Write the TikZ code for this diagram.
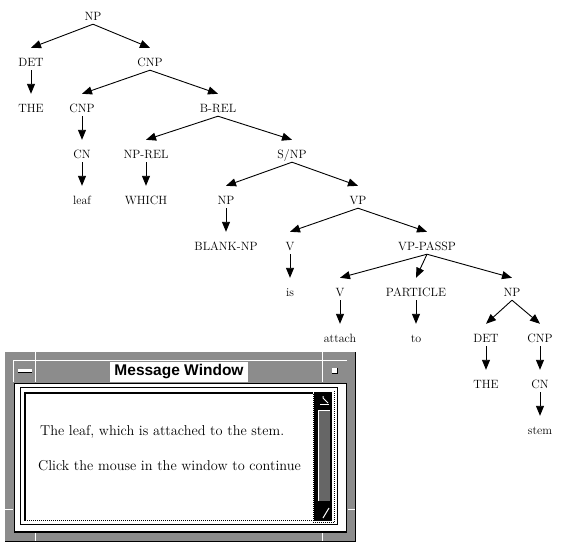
\documentclass[tikz,border=0pt]{standalone}
\usepackage{fontspec}
\newfontfamily\winfont{Liberation Sans}
\usetikzlibrary{arrows.meta}
\tikzset{
  lbl/.style={font=\fontsize{12}{14}\selectfont, inner sep=0pt, text height=18pt, text depth=4pt, anchor=base},
  edge/.style={draw, line width=0.9pt, -{Triangle[length=10pt,width=8pt]}},
  dith/.style={fill=black!45},
  wline/.style={draw=white, line width=1pt},
  bline/.style={draw=black, line width=1pt},
  dotline/.style={draw=black, line width=1pt, dash pattern=on 1pt off 1pt},
  msg/.style={font=\fontsize{14.3}{16}\selectfont, inner sep=0pt, anchor=base west},
  wtitle/.style={font=\winfont\bfseries\fontsize{15.5}{16}\selectfont, fill=white, inner sep=0pt, minimum width=138pt, minimum height=20pt}
}
\begin{document}
\begin{tikzpicture}[x=1pt,y=-1pt]
\useasboundingbox (0,0) rectangle (563,550);
% ---------- tree ----------
\node[lbl] (np0)    at (93,20)  {NP};
\node[lbl] (det1)   at (31,66)  {DET};
\node[lbl] (cnp1)   at (150,66) {CNP};
\node[lbl] (the2)   at (31,112) {THE};
\node[lbl] (cnp2)   at (82,112) {CNP};
\node[lbl] (brel2)  at (218,112) {B-REL};
\node[lbl] (cn3)    at (82,158) {CN};
\node[lbl] (nprel3) at (146,158) {NP-REL};
\node[lbl] (snp3)   at (292,158) {S/NP};
\node[lbl] (leaf4)  at (82,204) {leaf};
\node[lbl] (which4) at (146,204) {WHICH};
\node[lbl] (np4)    at (226,204) {NP};
\node[lbl] (vp4)    at (358,204) {VP};
\node[lbl] (blank5) at (226,250) {BLANK-NP};
\node[lbl] (v5)     at (290,250) {V};
\node[lbl] (vpp5)   at (427,250) {VP-PASSP};
\node[lbl] (is6)    at (290,296) {is};
\node[lbl] (v6)     at (340,296) {V};
\node[lbl] (part6)  at (416,296) {PARTICLE};
\node[lbl] (np6)    at (512,296) {NP};
\node[lbl] (attach7) at (340,342) {attach};
\node[lbl] (to7)    at (416,342) {to};
\node[lbl] (det7)   at (486,342) {DET};
\node[lbl] (cnp7)   at (540,342) {CNP};
\node[lbl] (the8)   at (486,388) {THE};
\node[lbl] (cn8)    at (540,388) {CN};
\node[lbl] (stem9)  at (540,434) {stem};
\foreach \p/\c in {np0/det1, np0/cnp1, det1/the2, cnp1/cnp2, cnp1/brel2, cnp2/cn3, cn3/leaf4,
  brel2/nprel3, brel2/snp3, nprel3/which4, snp3/np4, snp3/vp4, np4/blank5, vp4/v5, vp4/vpp5,
  v5/is6, vpp5/v6, vpp5/part6, vpp5/np6, v6/attach7, part6/to7, np6/det7, np6/cnp7,
  det7/the8, cnp7/cn8, cn8/stem9}
  \draw[edge] (\p.south) -- (\c.north);
% ---------- message window ----------
\fill[dith] (5,352) rectangle (356,542);
\draw[bline] (355.5,352) -- (355.5,541.5) -- (5,541.5);
% title bar highlights
\draw[wline] (13.5,382) -- (13.5,360.5) -- (347,360.5);
% corner separators
\draw[wline] (35.5,352) -- (35.5,382);
\draw[wline] (322.5,352) -- (322.5,382);
\draw[wline] (35.5,533) -- (35.5,541);
\draw[wline] (322.5,533) -- (322.5,541);
\draw[wline] (5,509.5) -- (13,509.5);
\draw[wline] (348,509.5) -- (355,509.5);
% window buttons
\fill[white] (18,369) rectangle (32,372);
\draw[bline] (18,372.5) -- (32,372.5);
\fill[white] (332,368) rectangle (337,373);
\draw[bline] (337.5,368) -- (337.5,373.5) -- (332,373.5);
% title
\node[wtitle] (title) at (179,372) {Message Window};
% client area
\fill[white] (14,383) rectangle (347,533);
\draw[bline] (14.5,383.5) -- (346.5,383.5) -- (346.5,532.5) -- (14.5,532.5) -- cycle;
\draw[draw=black, line width=2pt] (14,532) -- (347,532);
\draw[bline] (20.5,387.5) rectangle (337.5,524.5);
% text area
\draw[draw=black, line width=2pt] (25,521) -- (25,393) -- (313,393);
\draw[dotline] (25,520.5) -- (313.5,520.5) -- (313.5,393);
% scrollbar
\fill[black] (314,392) rectangle (332,521);
\draw[dotline] (334.5,391) -- (334.5,522.5) -- (313,522.5);
\fill[black!60] (318,410) rectangle (330,501);
\draw[wline] (318.5,501) -- (318.5,410.5) -- (330,410.5);
\draw[wline] (323,396) -- (323,398) -- (328,403);
\draw[wline] (320,404.5) -- (329,404.5);
\draw[wline] (323,518) -- (329,508);
% messages
\node[msg] (m1) at (40,435) {The leaf, which is attached to the stem.};
\node[msg] (m2) at (38,470) {Click the mouse in the window to continue};
\end{tikzpicture}
\end{document}
